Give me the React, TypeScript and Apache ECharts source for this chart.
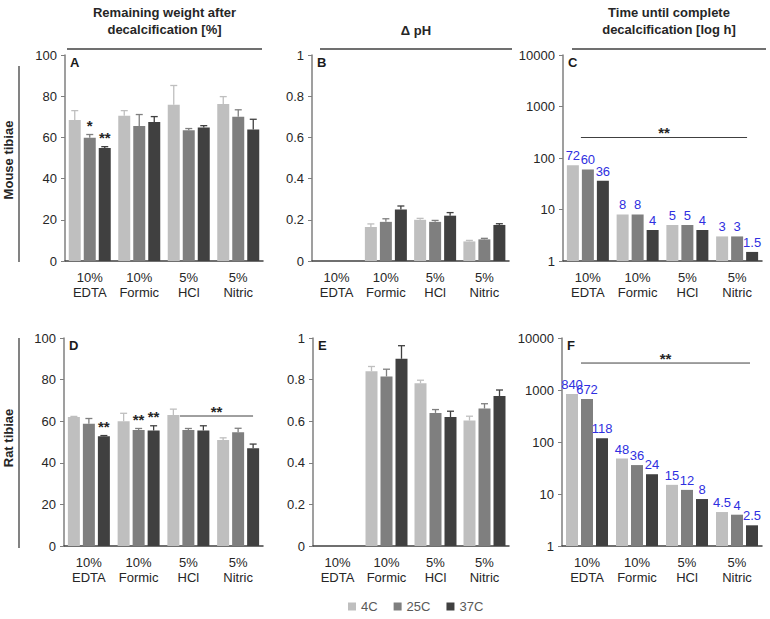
import React, { useEffect, useRef } from "react";
import * as echarts from "echarts";

const categories = ["10%\nEDTA", "10%\nFormic", "5%\nHCl", "5%\nNitric"];
const temps = ["4C", "25C", "37C"];
const barColors = ["#bfbfbf", "#7f7f7f", "#404040"];

// Mouse tibiae: remaining weight [%] (mean, +SD)
const mouseWeight4C = [68.5, 70.5, 75.8, 76.2];
const mouseWeight25C = [59.8, 65.5, 63.5, 70.0];
const mouseWeight37C = [54.8, 67.5, 64.8, 63.8];
const mouseWeightSD4C = [4.5, 2.5, 9.4, 3.6];
const mouseWeightSD25C = [1.6, 5.6, 0.8, 3.4];
const mouseWeightSD37C = [0.7, 2.6, 0.9, 5.0];
const mouseWeightMarks25C = ["*", "", "", ""];
const mouseWeightMarks37C = ["**", "", "", ""];

// Mouse tibiae: delta pH
const mousePH4C = ["-", 0.165, 0.2, 0.095];
const mousePH25C = ["-", 0.19, 0.19, 0.105];
const mousePH37C = ["-", 0.25, 0.22, 0.175];
const mousePHSD4C = [0, 0.015, 0.007, 0.005];
const mousePHSD25C = [0, 0.015, 0.007, 0.005];
const mousePHSD37C = [0, 0.017, 0.015, 0.006];

// Mouse tibiae: time until complete decalcification [h]
const mouseTime4C = [72, 8, 5, 3];
const mouseTime25C = [60, 8, 5, 3];
const mouseTime37C = [36, 4, 4, 1.5];
const mouseTimeSig = [-0.14, 3.2, 250]; // from (category), to (category), value

// Rat tibiae: remaining weight [%]
const ratWeight4C = [62.0, 60.0, 63.0, 51.0];
const ratWeight25C = [58.8, 55.8, 55.8, 54.7];
const ratWeight37C = [52.8, 55.5, 55.5, 47.0];
const ratWeightSD4C = [0.3, 3.8, 2.8, 1.0];
const ratWeightSD25C = [2.5, 0.7, 0.7, 1.9];
const ratWeightSD37C = [0.3, 2.3, 2.3, 2.0];
const ratWeightMarks25C = ["", "**", "", ""];
const ratWeightMarks37C = ["**", "**", "", ""];
const ratWeightSig = [1.83, 3.3, 62.5];

// Rat tibiae: delta pH
const ratPH4C = ["-", 0.84, 0.782, 0.603];
const ratPH25C = ["-", 0.815, 0.64, 0.661];
const ratPH37C = ["-", 0.9, 0.62, 0.721];
const ratPHSD4C = [0, 0.023, 0.015, 0.021];
const ratPHSD25C = [0, 0.035, 0.016, 0.023];
const ratPHSD37C = [0, 0.063, 0.028, 0.029];

// Rat tibiae: time until complete decalcification [h]
const ratTime4C = [840, 48, 15, 4.5];
const ratTime25C = [672, 36, 12, 4];
const ratTime37C = [118, 24, 8, 2.5];
const ratTimeSig = [-0.12, 3.26, 3300];

const headerTexts = [
  "Remaining weight after\ndecalcification [%]",
  "Δ pH",
  "Time until complete\ndecalcification [log h]",
];
const rowLabels = ["Mouse tibiae", "Rat tibiae"];
const panelLetters = ["A", "B", "C", "D", "E", "F"];

const FONT = "Liberation Sans, Arial, Helvetica, sans-serif";
const BAR_W = 12;
const BAR_STEP = 15;

const gridsLayout = [
  { left: 65, top: 55, width: 198, height: 206 },
  { left: 312, top: 55, width: 197, height: 206 },
  { left: 563, top: 55, width: 199, height: 206 },
  { left: 64, top: 338, width: 199, height: 208 },
  { left: 313, top: 338, width: 196, height: 208 },
  { left: 562, top: 338, width: 200, height: 208 },
];

function App() {
  const ref = useRef<HTMLDivElement>(null);
  useEffect(() => {
    if (!ref.current) return;
    const chart = echarts.init(ref.current, null, { renderer: "svg" });

    const series: any[] = [];

    const addBars = (g: number, sets: any[][], labels: boolean) => {
      sets.forEach((vals, k) => {
        series.push({
          type: "bar",
          name: temps[k],
          xAxisIndex: g,
          yAxisIndex: g,
          data: vals,
          barWidth: BAR_W,
          barGap: "25%",
          itemStyle: { color: barColors[k] },
          label: labels
            ? {
                show: true,
                position: "top",
                distance: 3,
                color: "#2f2fe0",
                fontSize: 13,
                fontFamily: FONT,
              }
            : { show: false },
          z: 2,
        });
      });
    };

    const addErr = (g: number, means: any[], sds: number[], k: number, marks?: string[]) => {
      const data: any[] = [];
      means.forEach((m, i) => {
        if (typeof m === "number") data.push([i, m, m + sds[i]]);
      });
      const off = (k - 1) * BAR_STEP;
      series.push({
        type: "custom",
        xAxisIndex: g,
        yAxisIndex: g,
        data,
        encode: { x: 0, y: [1, 2] },
        clip: false,
        z: 3,
        silent: true,
        renderItem: (params: any, api: any) => {
          const ci = api.value(0);
          const base = api.coord([ci, api.value(1)]);
          const top = api.coord([ci, api.value(2)]);
          const x = base[0] + off;
          const children: any[] = [
            {
              type: "line",
              shape: { x1: x, y1: base[1], x2: x, y2: top[1] },
              style: { stroke: barColors[k], lineWidth: 1.3 },
            },
            {
              type: "line",
              shape: { x1: x - 3.5, y1: top[1], x2: x + 3.5, y2: top[1] },
              style: { stroke: barColors[k], lineWidth: 1.3 },
            },
          ];
          const mk = marks ? marks[ci] : "";
          if (mk) {
            children.push({
              type: "text",
              x: x,
              y: top[1] - 9,
              style: {
                text: mk,
                fill: "#262626",
                font: `bold 15px ${FONT}`,
                align: "center",
                verticalAlign: "middle",
              },
            });
          }
          return { type: "group", children };
        },
      });
    };

    const addSig = (g: number, sig: number[]) => {
      series.push({
        type: "custom",
        xAxisIndex: g,
        yAxisIndex: g,
        data: [[0, sig[2]]],
        clip: false,
        z: 4,
        silent: true,
        renderItem: (params: any, api: any) => {
          const p = api.coord([0, sig[2]]);
          const band = api.size([1, 0])[0];
          const x0 = p[0] + sig[0] * band;
          const x1 = p[0] + sig[1] * band;
          return {
            type: "group",
            children: [
              {
                type: "line",
                shape: { x1: x0, y1: p[1], x2: x1, y2: p[1] },
                style: { stroke: "#404040", lineWidth: 1 },
              },
              {
                type: "text",
                x: (x0 + x1) / 2,
                y: p[1] - 5,
                style: {
                  text: "**",
                  fill: "#262626",
                  font: `bold 15px ${FONT}`,
                  align: "center",
                  verticalAlign: "middle",
                },
              },
            ],
          };
        },
      });
    };

    // A
    addBars(0, [mouseWeight4C, mouseWeight25C, mouseWeight37C], false);
    addErr(0, mouseWeight4C, mouseWeightSD4C, 0);
    addErr(0, mouseWeight25C, mouseWeightSD25C, 1, mouseWeightMarks25C);
    addErr(0, mouseWeight37C, mouseWeightSD37C, 2, mouseWeightMarks37C);
    // B
    addBars(1, [mousePH4C, mousePH25C, mousePH37C], false);
    addErr(1, mousePH4C, mousePHSD4C, 0);
    addErr(1, mousePH25C, mousePHSD25C, 1);
    addErr(1, mousePH37C, mousePHSD37C, 2);
    // C
    addBars(2, [mouseTime4C, mouseTime25C, mouseTime37C], true);
    addSig(2, mouseTimeSig);
    // D
    addBars(3, [ratWeight4C, ratWeight25C, ratWeight37C], false);
    addErr(3, ratWeight4C, ratWeightSD4C, 0);
    addErr(3, ratWeight25C, ratWeightSD25C, 1, ratWeightMarks25C);
    addErr(3, ratWeight37C, ratWeightSD37C, 2, ratWeightMarks37C);
    addSig(3, ratWeightSig);
    // E
    addBars(4, [ratPH4C, ratPH25C, ratPH37C], false);
    addErr(4, ratPH4C, ratPHSD4C, 0);
    addErr(4, ratPH25C, ratPHSD25C, 1);
    addErr(4, ratPH37C, ratPHSD37C, 2);
    // F
    addBars(5, [ratTime4C, ratTime25C, ratTime37C], true);
    addSig(5, ratTimeSig);

    const xAxes = gridsLayout.map((_, g) => ({
      type: "category",
      gridIndex: g,
      data: categories,
      axisLine: { lineStyle: { color: "#404040", width: 1.5 } },
      axisTick: { show: false },
      axisLabel: {
        color: "#262626",
        fontSize: 13,
        fontFamily: FONT,
        lineHeight: 15,
        margin: 9,
        interval: 0,
      },
    }));

    const yBase = {
      axisLine: { show: true, lineStyle: { color: "#7f7f7f", width: 1.5 } },
      axisTick: { show: true, length: 4, lineStyle: { color: "#7f7f7f" } },
      splitLine: { show: false },
      axisLabel: { color: "#262626", fontSize: 13, fontFamily: FONT, margin: 8 },
    };
    const yAxes = gridsLayout.map((_, g) => {
      const kind = g % 3;
      if (kind === 0) return { ...yBase, type: "value", gridIndex: g, min: 0, max: 100, interval: 20 };
      if (kind === 1) return { ...yBase, type: "value", gridIndex: g, min: 0, max: 1, interval: 0.2 };
      return {
        ...yBase,
        type: "log",
        gridIndex: g,
        min: 1,
        max: 10000,
        logBase: 10,
        minorTick: { show: false },
        axisLabel: { ...yBase.axisLabel, formatter: (v: number) => String(Math.round(v)) },
      };
    });

    const graphic: any[] = [];
    const headerLines = [
      [67, 262],
      [320, 512],
      [572, 766],
    ];
    headerTexts.forEach((t, i) => {
      const cx = (headerLines[i][0] + headerLines[i][1]) / 2;
      const twoLines = t.includes("\n");
      graphic.push({
        type: "text",
        x: cx,
        y: twoLines ? 21 : 30,
        style: {
          text: t,
          font: `bold 13px ${FONT}`,
          fill: "#262626",
          align: "center",
          verticalAlign: "middle",
          lineHeight: 17,
        },
      });
      graphic.push({
        type: "line",
        shape: { x1: headerLines[i][0], y1: 49, x2: headerLines[i][1], y2: 49 },
        style: { stroke: "#404040", lineWidth: 1.3 },
      });
    });

    const rowSpans = [
      [66, 262],
      [338, 548],
    ];
    rowLabels.forEach((t, i) => {
      const cy = i === 0 ? 160 : 438;
      graphic.push({
        type: "text",
        x: 8,
        y: cy,
        rotation: Math.PI / 2,
        style: {
          text: t,
          font: `bold 13px ${FONT}`,
          fill: "#262626",
          align: "center",
          verticalAlign: "middle",
        },
      });
      graphic.push({
        type: "line",
        shape: { x1: 19, y1: rowSpans[i][0], x2: 19, y2: rowSpans[i][1] },
        style: { stroke: "#404040", lineWidth: 1.3 },
      });
    });

    panelLetters.forEach((L, i) => {
      const g = gridsLayout[i];
      graphic.push({
        type: "text",
        x: g.left + 5,
        y: g.top + 7,
        style: {
          text: L,
          font: `bold 13px ${FONT}`,
          fill: "#1a1a1a",
          align: "left",
          verticalAlign: "middle",
        },
      });
    });

    chart.setOption({
      animation: false,
      textStyle: { fontFamily: FONT },
      grid: gridsLayout.map((g) => ({ ...g, containLabel: false })),
      xAxis: xAxes,
      yAxis: yAxes,
      legend: {
        data: temps,
        left: 345,
        top: 597,
        padding: 3,
        icon: "rect",
        itemWidth: 8,
        itemHeight: 8,
        itemGap: 16,
        textStyle: { fontSize: 13, color: "#595959", fontFamily: FONT },
        selectedMode: false,
      },
      series,
      graphic,
    });
    return () => chart.dispose();
  }, []);

  return (
    <div
      ref={ref}
      style={{ position: "fixed", left: 0, top: 0, width: 770, height: 619, background: "#fff" }}
    />
  );
}

export default App;
